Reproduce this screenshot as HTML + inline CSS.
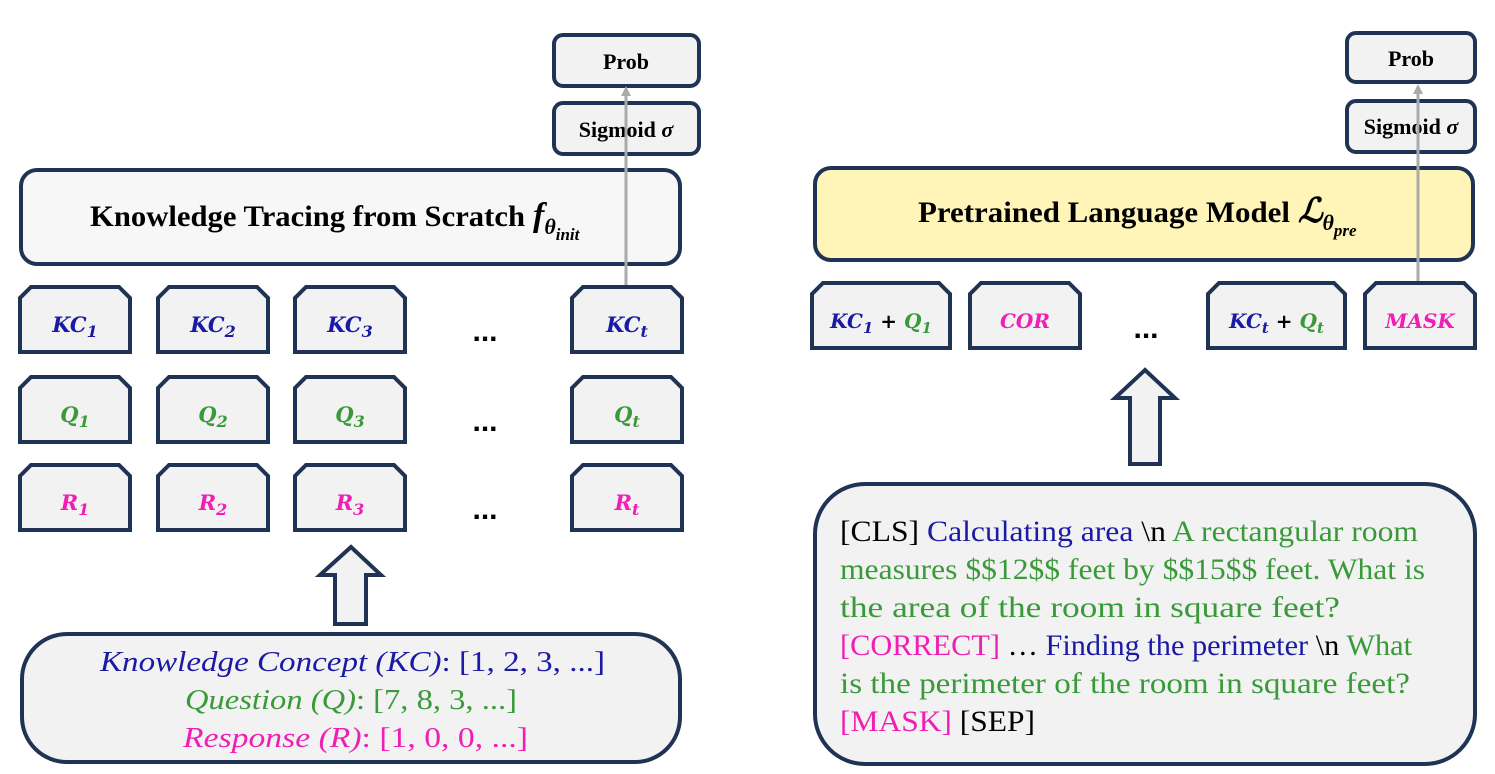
<!DOCTYPE html>
<html><head><meta charset="utf-8"><style>
html,body{margin:0;padding:0;background:#fff;}
svg{display:block;}
.b{fill:#f2f2f2;stroke:#1f3354;stroke-width:4;}
.sr{font-family:"Liberation Serif",serif;}
.m{font-family:"DejaVu Serif","Liberation Serif",serif;font-style:italic;font-weight:bold;}
</style></head><body>
<svg width="1495" height="774" viewBox="0 0 1495 774" xmlns="http://www.w3.org/2000/svg">
<!-- LEFT -->
<g>
<rect class="b" x="554" y="35" width="145" height="51" rx="9"/>
<text class="sr" x="626" y="69" text-anchor="middle" font-size="22" font-weight="bold">Prob</text></g>
<g>
<rect class="b" x="554" y="103" width="145" height="51" rx="9"/>
<text class="sr" x="626" y="137" text-anchor="middle" font-size="22" font-weight="bold">Sigmoid <tspan font-style="italic">σ</tspan></text></g>
<g>
<rect x="21" y="170" width="659" height="94" rx="16" fill="#f7f7f7" stroke="#1f3354" stroke-width="4"/>
<text class="sr" x="90" y="226" font-size="30" font-weight="bold"><tspan textLength="435" lengthAdjust="spacingAndGlyphs">Knowledge Tracing from Scratch</tspan><tspan font-style="italic" font-size="34" dx="8">f</tspan><tspan font-style="italic" font-size="22" dy="8">θ</tspan><tspan font-style="italic" font-size="17" dy="6">init</tspan></text></g>
<line x1="626" y1="287" x2="626" y2="92" stroke="#aaa" stroke-width="3"/>
<polygon points="626,86 621,96 631,96" fill="#aaa"/>
<g id="leftGrid"></g>
<g>
<polygon class="b" stroke-width="3.5" points="351,547 381,575 366,575 366,624 335,624 335,575 320,575"/></g>
<g>
<rect class="b" x="22" y="634" width="658" height="128" rx="45"/>
<text class="sr" x="100" y="671" font-size="29" fill="#1a1aa6" textLength="505" lengthAdjust="spacingAndGlyphs"><tspan font-style="italic">Knowledge Concept (KC)</tspan>: [1, 2, 3, ...]</text>
<text class="sr" x="185" y="709" font-size="29" fill="#3a9a3a" textLength="332" lengthAdjust="spacingAndGlyphs"><tspan font-style="italic">Question (Q)</tspan>: [7, 8, 3, ...]</text>
<text class="sr" x="183" y="747" font-size="29" fill="#f01eb4" textLength="345" lengthAdjust="spacingAndGlyphs"><tspan font-style="italic">Response (R)</tspan>: [1, 0, 0, ...]</text></g>
<!-- RIGHT -->
<g>
<rect class="b" x="1347" y="33" width="128" height="49" rx="9"/>
<text class="sr" x="1411" y="66" text-anchor="middle" font-size="22" font-weight="bold">Prob</text></g>
<g>
<rect class="b" x="1347" y="101" width="128" height="51" rx="9"/>
<text class="sr" x="1411" y="134" text-anchor="middle" font-size="22" font-weight="bold">Sigmoid <tspan font-style="italic">σ</tspan></text></g>
<g>
<rect x="815" y="168" width="658" height="92" rx="16" fill="#fff5b8" stroke="#1f3354" stroke-width="4"/>
<text class="sr" x="918" y="222" font-size="30" font-weight="bold"><tspan textLength="372" lengthAdjust="spacingAndGlyphs">Pretrained Language Model</tspan><tspan font-style="italic" font-size="34" dx="8">ℒ</tspan><tspan font-style="italic" font-size="22" dy="8">θ</tspan><tspan font-style="italic" font-size="17" dy="6">pre</tspan></text></g>
<line x1="1418" y1="283" x2="1418" y2="90" stroke="#aaa" stroke-width="3"/>
<polygon points="1418,84 1413,94 1423,94" fill="#aaa"/>
<g id="rightRow"></g>
<text x="1146" y="338" text-anchor="middle" font-family="Liberation Sans,sans-serif" font-size="30" font-weight="bold">...</text>
<g>
<polygon class="b" stroke-width="3.5" points="1145,370 1175,398 1160,398 1160,464 1130,464 1130,398 1115,398"/></g>
<g>
<rect class="b" x="815" y="484" width="660" height="280" rx="50"/>
<g class="sr" font-size="30">
<text x="840" y="541" textLength="578" lengthAdjust="spacingAndGlyphs"><tspan fill="#000">[CLS] </tspan><tspan fill="#1a1aa6">Calculating area </tspan><tspan fill="#000">\n </tspan><tspan fill="#3a9a3a">A rectangular room</tspan></text>
<text x="840" y="579" fill="#3a9a3a" textLength="585" lengthAdjust="spacingAndGlyphs">measures $$12$$ feet by $$15$$ feet. What is</text>
<text x="840" y="617" fill="#3a9a3a" textLength="500" lengthAdjust="spacingAndGlyphs">the area of the room in square feet?</text>
<text x="840" y="655" textLength="572" lengthAdjust="spacingAndGlyphs"><tspan fill="#f01eb4">[CORRECT] </tspan><tspan fill="#000">… </tspan><tspan fill="#1a1aa6">Finding the perimeter </tspan><tspan fill="#000">\n </tspan><tspan fill="#3a9a3a">What</tspan></text>
<text x="840" y="693" fill="#3a9a3a" textLength="570" lengthAdjust="spacingAndGlyphs">is the perimeter of the room in square feet?</text>
<text x="840" y="731" textLength="195" lengthAdjust="spacingAndGlyphs"><tspan fill="#f01eb4">[MASK] </tspan><tspan fill="#000">[SEP]</tspan></text>
</g></g>
</svg>
<script>
const NS='http://www.w3.org/2000/svg';
const cols=[20,158,295,572];
const rows=[{y:287,c:'#1a1aa6',l:'KC',n:'kc'},{y:377,c:'#3a9a3a',l:'Q',n:'q'},{y:465,c:'#f01eb4',l:'R',n:'r'}];
const subs=['1','2','3','t'];
function shape(x,y,w,h){const k=11;return `${x},${y+h} ${x},${y+k} ${x+k},${y} ${x+w-k},${y} ${x+w},${y+k} ${x+w},${y+h}`;}
const lg=document.getElementById('leftGrid');
rows.forEach(r=>{
  cols.forEach((x,i)=>{
    const g=document.createElementNS(NS,'g');
    
    
    const p=document.createElementNS(NS,'polygon');p.setAttribute('class','b');p.setAttribute('points',shape(x,r.y,110,65));g.appendChild(p);
    const t=document.createElementNS(NS,'text');t.setAttribute('class','m');t.setAttribute('x',x+55);t.setAttribute('y',r.y+45);t.setAttribute('text-anchor','middle');t.setAttribute('font-size','21');t.setAttribute('fill',r.c);
    t.innerHTML=r.l+'<tspan font-size="16" dy="5">'+subs[i]+'</tspan>';g.appendChild(t);lg.appendChild(g);
  });
  const d=document.createElementNS(NS,'text');d.setAttribute('x',485);d.setAttribute('y',r.y+54);d.setAttribute('text-anchor','middle');d.setAttribute('font-family','Liberation Sans,sans-serif');d.setAttribute('font-size','30');d.setAttribute('font-weight','bold');d.textContent='...';
  
  
  lg.appendChild(d);
});
const rr=document.getElementById('rightRow');
const rb=[{x:812,w:138,h:'<tspan fill="#1a1aa6">KC<tspan font-size="15" dy="5">1</tspan></tspan><tspan fill="#000" dy="-5"> + </tspan><tspan fill="#3a9a3a">Q<tspan font-size="15" dy="5">1</tspan></tspan>',n:'kc1-q1-token'},
{x:970,w:110,h:'<tspan fill="#f01eb4">COR</tspan>',n:'cor-token'},
{x:1208,w:137,h:'<tspan fill="#1a1aa6">KC<tspan font-size="15" dy="5">t</tspan></tspan><tspan fill="#000" dy="-5"> + </tspan><tspan fill="#3a9a3a">Q<tspan font-size="15" dy="5">t</tspan></tspan>',n:'kct-qt-token'},
{x:1365,w:110,h:'<tspan fill="#f01eb4">MASK</tspan>',n:'mask-token'}];
rb.forEach(b=>{
  const g=document.createElementNS(NS,'g');
  
  
  const p=document.createElementNS(NS,'polygon');p.setAttribute('class','b');p.setAttribute('points',shape(b.x,283,b.w,65));g.appendChild(p);
  const t=document.createElementNS(NS,'text');t.setAttribute('class','m');t.setAttribute('x',b.x+b.w/2);t.setAttribute('y',328);t.setAttribute('text-anchor','middle');t.setAttribute('font-size','20');
  t.innerHTML=b.h;g.appendChild(t);rr.appendChild(g);
});
</script>
</body></html>
